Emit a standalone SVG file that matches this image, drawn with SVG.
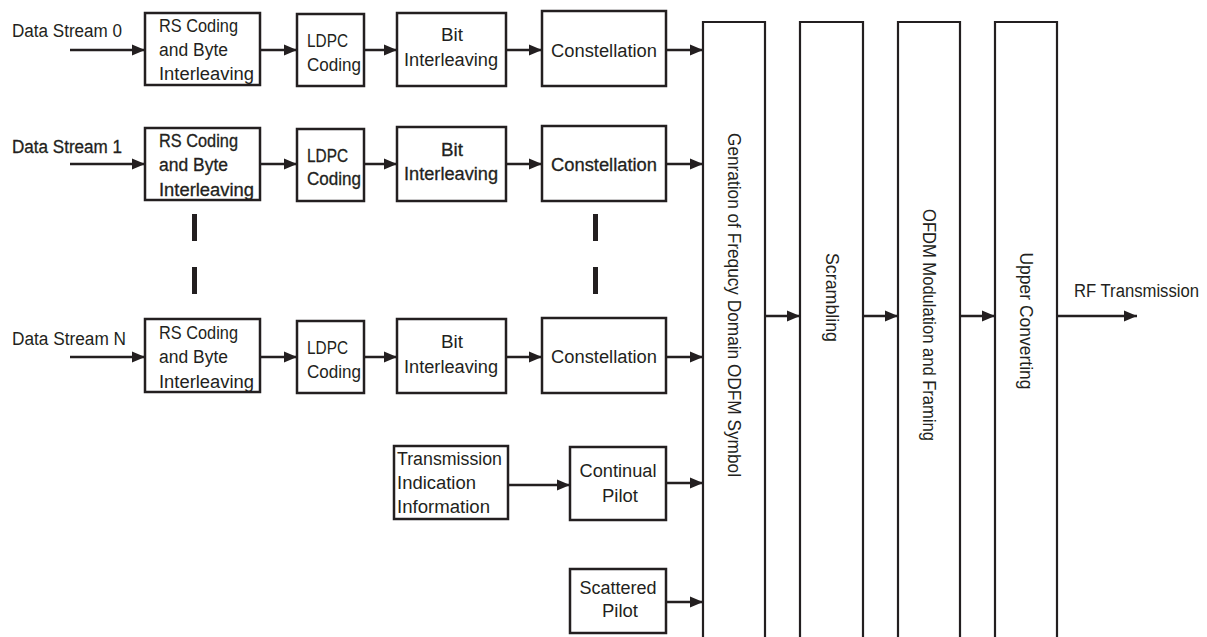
<svg xmlns="http://www.w3.org/2000/svg" width="1207" height="637" viewBox="0 0 1207 637">
<style>
text{font-family:"Liberation Sans Narrow","Liberation Sans",Arial,sans-serif;font-size:18px;fill:#231f20;}
.b{stroke:#231f20;stroke-width:0.3;}
.box{fill:#fff;stroke:#231f20;stroke-width:2.5;}
.tall{fill:none;stroke:#231f20;stroke-width:2.2;}
.ln{stroke:#231f20;stroke-width:2.5;fill:none;marker-end:url(#ah);}
.m{text-anchor:middle;}
.dash{fill:#231f20;}
</style>
<defs>
<marker id="ah" markerUnits="userSpaceOnUse" markerWidth="14" markerHeight="12" refX="13" refY="6" orient="auto">
<path d="M0,0.5 L13,6 L0,11.5 Z" fill="#231f20"/>
</marker>
</defs>
<rect width="1207" height="637" fill="#fff"/>

<g id="labels">
<text x="12" y="37" textLength="110" lengthAdjust="spacingAndGlyphs">Data Stream 0</text>
<text class="b" x="12" y="153" textLength="110" lengthAdjust="spacingAndGlyphs">Data Stream 1</text>
<text x="12" y="345" textLength="114" lengthAdjust="spacingAndGlyphs">Data Stream N</text>
<text x="1074" y="297" textLength="125" lengthAdjust="spacingAndGlyphs">RF Transmission</text>
</g>

<g id="rs0"><rect class="box" x="145" y="13" width="115" height="72"/>
<text x="159" y="32" textLength="79" lengthAdjust="spacingAndGlyphs">RS Coding</text>
<text x="159" y="56" textLength="69" lengthAdjust="spacingAndGlyphs">and Byte</text>
<text x="159" y="80" textLength="95" lengthAdjust="spacingAndGlyphs">Interleaving</text></g>
<g id="rs1"><rect class="box" x="145" y="128" width="115" height="72"/>
<text class="b" x="159" y="147" textLength="79" lengthAdjust="spacingAndGlyphs">RS Coding</text>
<text class="b" x="159" y="171" textLength="69" lengthAdjust="spacingAndGlyphs">and Byte</text>
<text class="b" x="159" y="196" textLength="95" lengthAdjust="spacingAndGlyphs">Interleaving</text></g>
<g id="rsN"><rect class="box" x="145" y="319" width="115" height="73"/>
<text x="159" y="339" textLength="79" lengthAdjust="spacingAndGlyphs">RS Coding</text>
<text x="159" y="363" textLength="69" lengthAdjust="spacingAndGlyphs">and Byte</text>
<text x="159" y="388" textLength="95" lengthAdjust="spacingAndGlyphs">Interleaving</text></g>

<g id="ldpc0"><rect class="box" x="297" y="14" width="67" height="72"/>
<text x="307" y="47" textLength="41" lengthAdjust="spacingAndGlyphs">LDPC</text>
<text x="307" y="71" textLength="54" lengthAdjust="spacingAndGlyphs">Coding</text></g>
<g id="ldpc1"><rect class="box" x="297" y="129" width="67" height="72"/>
<text class="b" x="307" y="162" textLength="41" lengthAdjust="spacingAndGlyphs">LDPC</text>
<text class="b" x="307" y="185" textLength="54" lengthAdjust="spacingAndGlyphs">Coding</text></g>
<g id="ldpcN"><rect class="box" x="297" y="321" width="67" height="72"/>
<text x="307" y="354" textLength="41" lengthAdjust="spacingAndGlyphs">LDPC</text>
<text x="307" y="378" textLength="54" lengthAdjust="spacingAndGlyphs">Coding</text></g>

<g id="bit0"><rect class="box" x="397" y="13" width="109" height="73"/>
<text class="m" x="452" y="41" textLength="22" lengthAdjust="spacingAndGlyphs">Bit</text>
<text class="m" x="451" y="66" textLength="94" lengthAdjust="spacingAndGlyphs">Interleaving</text></g>
<g id="bit1"><rect class="box" x="397" y="127" width="109" height="74"/>
<text class="m b" x="452" y="156" textLength="22" lengthAdjust="spacingAndGlyphs">Bit</text>
<text class="m b" x="451" y="180" textLength="94" lengthAdjust="spacingAndGlyphs">Interleaving</text></g>
<g id="bitN"><rect class="box" x="397" y="319" width="109" height="74"/>
<text class="m" x="452" y="348" textLength="22" lengthAdjust="spacingAndGlyphs">Bit</text>
<text class="m" x="451" y="373" textLength="94" lengthAdjust="spacingAndGlyphs">Interleaving</text></g>

<g id="con0"><rect class="box" x="542" y="11" width="124" height="75"/>
<text class="m" x="604" y="57" textLength="106" lengthAdjust="spacingAndGlyphs">Constellation</text></g>
<g id="con1"><rect class="box" x="542" y="126" width="124" height="75"/>
<text class="m b" x="604" y="171" textLength="106" lengthAdjust="spacingAndGlyphs">Constellation</text></g>
<g id="conN"><rect class="box" x="542" y="318" width="124" height="75"/>
<text class="m" x="604" y="363" textLength="106" lengthAdjust="spacingAndGlyphs">Constellation</text></g>

<g id="tii"><rect class="box" x="394" y="446" width="114" height="73"/>
<text x="397" y="465" textLength="105" lengthAdjust="spacingAndGlyphs">Transmission</text>
<text x="397" y="489" textLength="79" lengthAdjust="spacingAndGlyphs">Indication</text>
<text x="397" y="513" textLength="93" lengthAdjust="spacingAndGlyphs">Information</text></g>
<g id="cpilot"><rect class="box" x="570" y="447" width="96" height="73"/>
<text class="m" x="618" y="477" textLength="77" lengthAdjust="spacingAndGlyphs">Continual</text>
<text class="m" x="620" y="502" textLength="36" lengthAdjust="spacingAndGlyphs">Pilot</text></g>
<g id="spilot"><rect class="box" x="570" y="569" width="96" height="64"/>
<text class="m" x="618" y="594" textLength="77" lengthAdjust="spacingAndGlyphs">Scattered</text>
<text class="m" x="620" y="617" textLength="36" lengthAdjust="spacingAndGlyphs">Pilot</text></g>

<g id="gen"><path class="tall" d="M703,640 V22 H765 V640"/>
<text class="m" transform="translate(728,305) rotate(90)" textLength="344" lengthAdjust="spacingAndGlyphs">Genration of Frequcy Domain ODFM Symbol</text></g>
<g id="scr"><path class="tall" d="M800,640 V22 H863 V640"/>
<text class="m" transform="translate(826,297.5) rotate(90)" textLength="89" lengthAdjust="spacingAndGlyphs">Scrambling</text></g>
<g id="ofdm"><path class="tall" d="M898,640 V22 H960 V640"/>
<text class="m" transform="translate(923,325) rotate(90)" textLength="232" lengthAdjust="spacingAndGlyphs">OFDM Modulation and Framing</text></g>
<g id="up"><path class="tall" d="M995,640 V22 H1057 V640"/>
<text class="m" transform="translate(1020,321) rotate(90)" textLength="137" lengthAdjust="spacingAndGlyphs">Upper Converting</text></g>

<g id="dashes">
<rect class="dash" x="192" y="214" width="5" height="27"/>
<rect class="dash" x="192" y="267" width="5" height="27"/>
<rect class="dash" x="593" y="214" width="5" height="27"/>
<rect class="dash" x="593" y="267" width="5" height="27"/>
</g>

<g id="connectors">
<line class="ln" x1="70" y1="50" x2="145" y2="50"/>
<line class="ln" x1="260" y1="50" x2="297" y2="50"/>
<line class="ln" x1="364" y1="50" x2="397" y2="50"/>
<line class="ln" x1="506" y1="50" x2="542" y2="50"/>
<line class="ln" x1="666" y1="50" x2="703" y2="50"/>
<line class="ln" x1="70" y1="164" x2="145" y2="164"/>
<line class="ln" x1="260" y1="164" x2="297" y2="164"/>
<line class="ln" x1="364" y1="164" x2="397" y2="164"/>
<line class="ln" x1="506" y1="164" x2="542" y2="164"/>
<line class="ln" x1="666" y1="164" x2="703" y2="164"/>
<line class="ln" x1="70" y1="357" x2="145" y2="357"/>
<line class="ln" x1="260" y1="357" x2="297" y2="357"/>
<line class="ln" x1="364" y1="357" x2="397" y2="357"/>
<line class="ln" x1="506" y1="357" x2="542" y2="357"/>
<line class="ln" x1="666" y1="357" x2="703" y2="357"/>
<line class="ln" x1="508" y1="485" x2="570" y2="485"/>
<line class="ln" x1="666" y1="483" x2="703" y2="483"/>
<line class="ln" x1="666" y1="602" x2="703" y2="602"/>
<line class="ln" x1="765" y1="316" x2="800" y2="316"/>
<line class="ln" x1="863" y1="316" x2="898" y2="316"/>
<line class="ln" x1="960" y1="316" x2="995" y2="316"/>
<line class="ln" x1="1057" y1="316" x2="1137" y2="316"/>
</g>
</svg>
